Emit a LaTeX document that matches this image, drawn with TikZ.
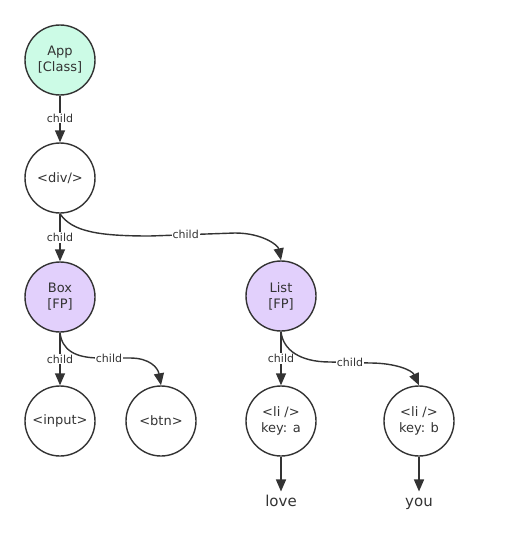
\documentclass[tikz,border=0pt]{standalone}
\usepackage{fontspec}
\setmainfont{DejaVu Sans}
\usetikzlibrary{arrows.meta}
\definecolor{mint}{HTML}{CCFBE6}
\definecolor{lav}{HTML}{E2D0FC}
\definecolor{ink}{HTML}{333333}
\begin{document}
\begin{tikzpicture}[x=1pt,y=-1pt,
  nd/.style={circle,draw=ink,line width=1.4pt,minimum size=70pt,inner sep=0pt,align=center,font=\fontsize{13}{16}\selectfont,text=ink},
  txt/.style={font=\fontsize{15}{17}\selectfont,text=ink,text height=11pt,text depth=3pt},
  conn/.style={draw=ink,line width=1.4pt,-{Triangle[length=12pt,width=10pt]}},
  lbl/.style={fill=white,inner sep=1pt,font=\fontsize{11}{13}\selectfont,text=ink}]
\useasboundingbox (0,0) rectangle (504,546);
\node[nd,fill=mint] (app) at (60,60) {App\\{[Class]}};
\node[nd] (div) at (60,178) {<div/>};
\node[nd,fill=lav] (box) at (60,297) {Box\\{[FP]}};
\node[nd,fill=lav] (list) at (281,296) {List\\{[FP]}};
\node[nd] (input) at (60,421) {<input>};
\node[nd] (btn) at (161,421) {<btn>};
\node[nd] (lia) at (281,421) {<li />\\key: a};
\node[nd] (lib) at (419,421) {<li />\\key: b};
\node[txt] (love) at (281,502) {love};
\node[txt] (you) at (419,502) {you};
\draw[conn] (app) -- node[lbl,pos=0.48]{child} (div);
\draw[conn] (div) -- node[lbl,pos=0.5]{child} (box);
\draw[conn] (div.south) .. controls (72,232) and (100,236) .. (150,236)
  -- node[lbl,pos=0.42]{child} (235,233) .. controls (262,233) and (278,245) .. (list.north);
\draw[conn] (box) -- node[lbl,pos=0.5]{child} (input);
\draw[conn] (box.south) .. controls (62,350) and (75,358) .. (100,358)
  -- node[lbl,pos=0.3]{child} (130,358) .. controls (150,358) and (158,368) .. (btn.north);
\draw[conn] (list) -- node[lbl,pos=0.5]{child} (lia);
\draw[conn] (list.south) .. controls (283,350) and (300,362) .. (330,362)
  -- node[lbl,pos=0.5]{child} (370,363) .. controls (395,363) and (412,370) .. (lib.north);
\draw[conn] (lia) -- (love.north);
\draw[conn] (lib) -- (you.north);
\end{tikzpicture}
\end{document}
